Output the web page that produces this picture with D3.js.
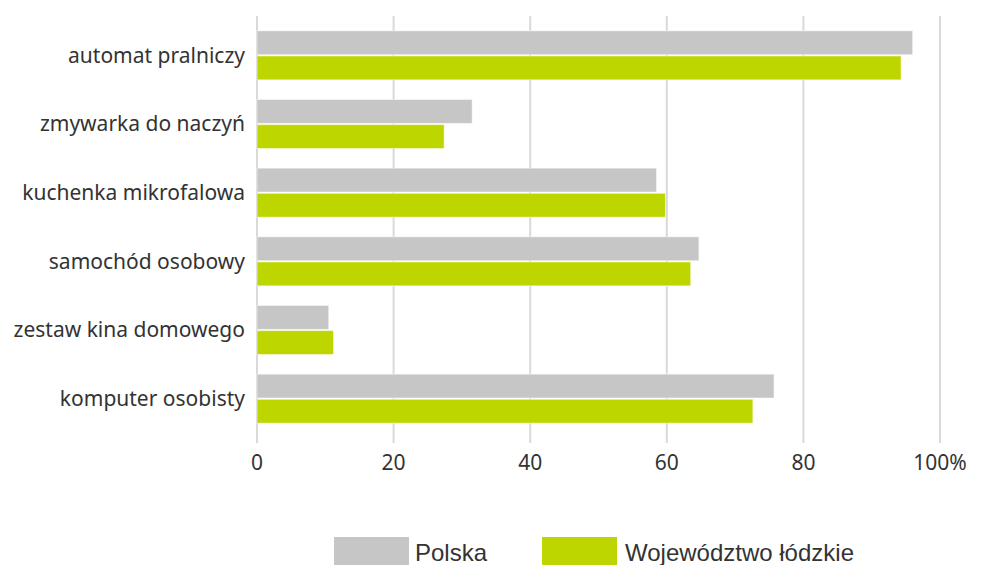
<!DOCTYPE html>
<html>
<head>
<meta charset="utf-8">
<script src="https://cdn.jsdelivr.net/npm/d3@7"></script>
<style>
  body { margin: 0; background: #fff; }
  svg { display: block; }
</style>
</head>
<body>
<div id="chart"></div>
<script>
const categories = ['automat pralniczy', 'zmywarka do naczyń', 'kuchenka mikrofalowa',
  'samochód osobowy', 'zestaw kina domowego', 'komputer osobisty'];
const seriesNames = ['Polska', 'Województwo łódzkie'];
const polska = [96.0, 31.5, 58.5, 64.7, 10.5, 75.7];
const lodzkie = [94.3, 27.4, 59.8, 63.5, 11.2, 72.6];
const xTicks = [0, 20, 40, 60, 80, 100];

const width = 981, height = 565;
const colors = ['#c6c6c6', '#bed600'];

const svg = d3.select('#chart').append('svg')
  .attr('width', width)
  .attr('height', height);

const x = d3.scaleLinear().domain([0, 100]).range([257, 940]);

const y = d3.scaleBand()
  .domain(categories)
  .range([21, 433])
  .paddingInner(0.286)
  .paddingOuter(0.143);

const ySub = d3.scaleBand()
  .domain(seriesNames)
  .range([0, y.bandwidth()])
  .paddingInner(0.05);

// gridlines
svg.append('g')
  .selectAll('line')
  .data(xTicks)
  .join('line')
  .attr('x1', d => x(d)).attr('x2', d => x(d))
  .attr('y1', 16).attr('y2', 443)
  .attr('stroke', '#d9d9d9')
  .attr('stroke-width', 2);

// x tick labels
svg.append('g')
  .selectAll('text')
  .data(xTicks)
  .join('text')
  .attr('x', d => x(d))
  .attr('y', 470)
  .attr('text-anchor', 'middle')
  .attr('font-family', 'Noto Sans, sans-serif')
  .attr('font-size', 21)
  .attr('fill', '#333')
  .text(d => d === 100 ? '100%' : d);

// bars
const data = categories.map((c, i) => ({ cat: c, values: [polska[i], lodzkie[i]] }));

const groups = svg.append('g')
  .selectAll('g')
  .data(data)
  .join('g')
  .attr('transform', d => `translate(0,${y(d.cat)})`);

groups.selectAll('rect')
  .data(d => d.values.map((v, j) => ({ name: seriesNames[j], v, j })))
  .join('rect')
  .attr('x', x(0))
  .attr('y', d => ySub(d.name))
  .attr('width', d => x(d.v) - x(0))
  .attr('height', ySub.bandwidth())
  .attr('fill', d => colors[d.j])
  .attr('stroke', '#ffffff')
  .attr('stroke-opacity', 0.5)
  .attr('stroke-width', 1);

// category labels
svg.append('g')
  .selectAll('text')
  .data(categories)
  .join('text')
  .attr('x', 245)
  .attr('y', d => y(d) + y.bandwidth() / 2)
  .attr('dy', '0.35em')
  .attr('text-anchor', 'end')
  .attr('font-family', 'Noto Sans, sans-serif')
  .attr('font-size', 21)
  .attr('fill', '#333')
  .text(d => d);

// legend
const legendX = [334, 542];
const legend = svg.append('g')
  .selectAll('g')
  .data(seriesNames)
  .join('g')
  .attr('transform', (d, i) => `translate(${legendX[i]},537)`);

legend.append('rect')
  .attr('width', 75)
  .attr('height', 28)
  .attr('fill', (d, i) => colors[i]);

legend.append('text')
  .attr('x', (d, i) => i === 0 ? 81 : 83)
  .attr('y', 24)
  .attr('font-family', 'Liberation Sans, Arial, sans-serif')
  .attr('font-size', 24)
  .attr('fill', '#333')
  .text(d => d);
</script>
</body>
</html>
